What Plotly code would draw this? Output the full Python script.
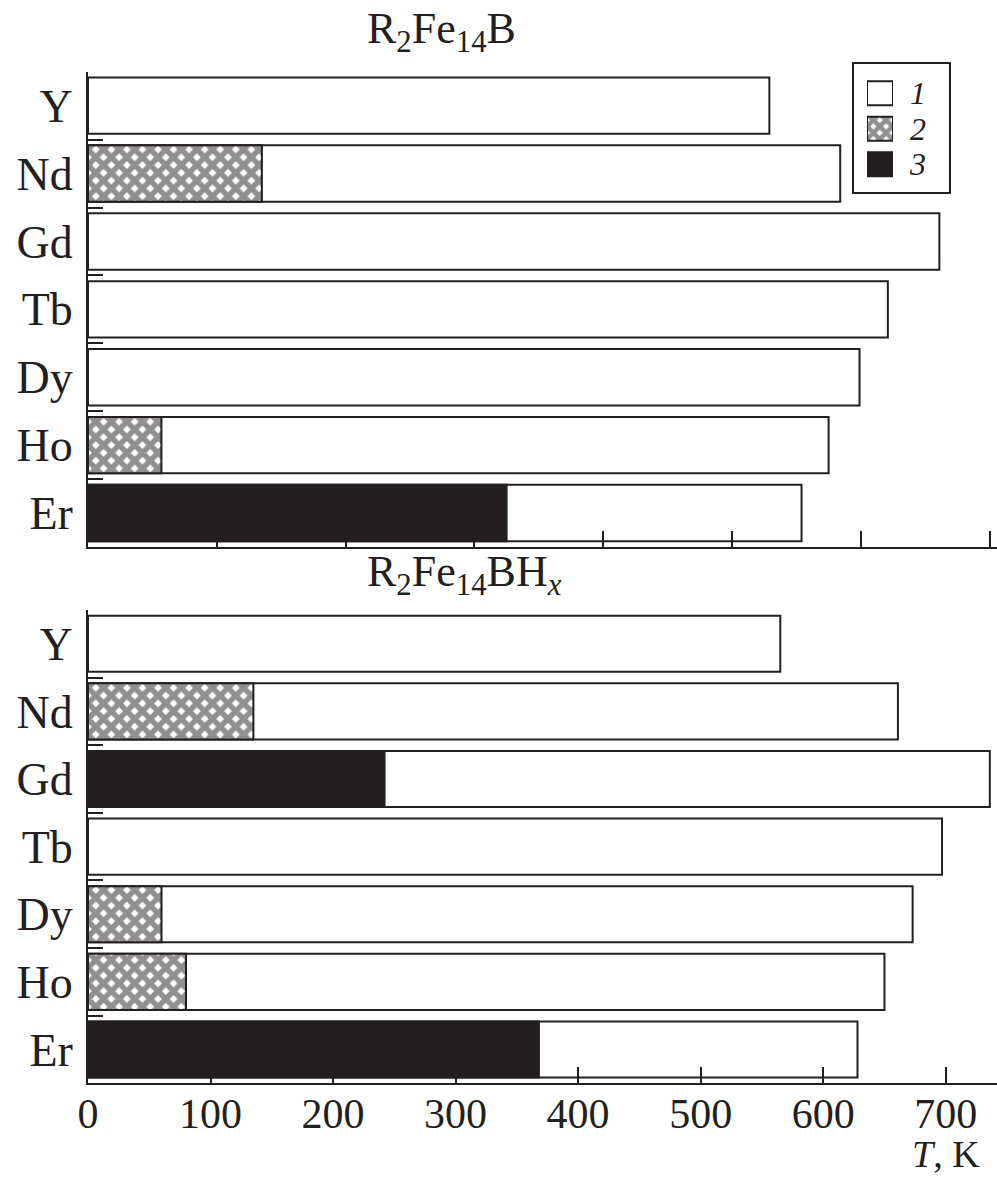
import plotly.graph_objects as go

# ---------------- data ----------------
elements = ["Y", "Nd", "Gd", "Tb", "Dy", "Ho", "Er"]

# R2Fe14B (top panel)
tc_top = [529, 584, 661, 621, 599, 575, 554]          # 1
t2_top = [None, 135, None, None, None, 57, None]      # 2
t3_top = [None, None, None, None, None, None, 325]    # 3

# R2Fe14BHx (bottom panel)
tc_bot = [565, 661, 736, 697, 673, 650, 628]          # 1
t2_bot = [None, 135, None, None, 60, 80, None]        # 2
t3_bot = [None, None, 242, None, None, None, 368]     # 3

xticks = [0, 100, 200, 300, 400, 500, 600, 700]
legend_labels = ["1", "2", "3"]
legend_vals = [1, 1, 1]

# ---------------- style ----------------
W, H = 997, 1181
FONT = "Liberation Serif"
INK = "#231f20"
BARW = 0.83

def px_x(p):
    return p / W

def px_y(p):
    return 1 - p / H

fig = go.Figure()

HATCH = dict(shape="x", fgcolor=INK, bgcolor="white", size=11, solidity=0.75,
             fillmode="overlay")

def add_panel(tc, t2, t3, xa, ya):
    fig.add_trace(go.Bar(
        y=elements, x=tc, orientation="h", width=BARW,
        marker=dict(color="rgba(0,0,0,0)", line=dict(color=INK, width=2)),
        xaxis=xa, yaxis=ya, showlegend=False, hoverinfo="skip"))
    fig.add_trace(go.Bar(
        y=elements, x=t2, orientation="h", width=BARW,
        marker=dict(color="white", line=dict(color=INK, width=2), pattern=HATCH),
        xaxis=xa, yaxis=ya, showlegend=False, hoverinfo="skip"))
    fig.add_trace(go.Bar(
        y=elements, x=t3, orientation="h", width=BARW,
        marker=dict(color=INK, line=dict(color=INK, width=2)),
        xaxis=xa, yaxis=ya, showlegend=False, hoverinfo="skip"))

add_panel(tc_top, t2_top, t3_top, "x", "y")
add_panel(tc_bot, t2_bot, t3_bot, "x2", "y2")

# legend swatches (inset axis)
leg_styles = [
    dict(color="white", line=dict(color=INK, width=2)),
    dict(color="white", line=dict(color=INK, width=2),
         pattern=dict(shape="x", fgcolor=INK, bgcolor="white", size=9,
                      solidity=0.75, fillmode="overlay")),
    dict(color=INK, line=dict(color=INK, width=2)),
]
for lab, val, st in zip(legend_labels, legend_vals, leg_styles):
    fig.add_trace(go.Bar(y=[lab], x=[val], orientation="h", width=0.68,
                         marker=st, xaxis="x3", yaxis="y3",
                         showlegend=False, hoverinfo="skip"))

xdom = [px_x(88), 1.0]
top_dom = [px_y(547), px_y(71.7)]
bot_dom = [px_y(1083.3), px_y(610)]

common_y = dict(
    type="category", categoryorder="array", categoryarray=elements,
    tickmode="array", tickvals=elements,
    range=[len(elements) - 0.5, -0.5], automargin=False,
    showline=True, linecolor=INK, linewidth=2,
    ticks="inside", tickson="boundaries", ticklen=15, tickwidth=2, tickcolor=INK,
    tickfont=dict(family=FONT, size=46, color=INK),
    ticklabelstandoff=4,
    showgrid=False, zeroline=False, layer="below traces", fixedrange=True,
)
common_x = dict(
    showline=True, linecolor=INK, linewidth=2, automargin=False,
    ticks="inside", ticklen=16, tickwidth=2, tickcolor=INK,
    tickmode="array", tickvals=xticks, showgrid=False, zeroline=False,
    layer="below traces", fixedrange=True,
)

fig.update_layout(
    width=W, height=H, autosize=False,
    margin=dict(l=0, r=0, t=0, b=0, pad=0, autoexpand=False),
    paper_bgcolor="white", plot_bgcolor="rgba(0,0,0,0)",
    barmode="overlay", showlegend=False,
    font=dict(family=FONT, color=INK),
    xaxis=dict(domain=xdom, anchor="y", range=[0, 909 / 1.288],
               showticklabels=False, **common_x),
    yaxis=dict(domain=top_dom, anchor="x", **common_y),
    xaxis2=dict(domain=xdom, anchor="y2", range=[0, 909 / 1.2253],
                showticklabels=True,
                tickfont=dict(family=FONT, size=42, color=INK),
                ticklabelstandoff=-8, **common_x),
    yaxis2=dict(domain=bot_dom, anchor="x2", **common_y),
    xaxis3=dict(domain=[px_x(867), px_x(893)], anchor="y3", range=[0, 1],
                visible=False, fixedrange=True, automargin=False),
    yaxis3=dict(domain=[px_y(182), px_y(75.5)], anchor="x3", type="category",
                categoryorder="array", categoryarray=legend_labels,
                tickmode="array", tickvals=legend_labels,
                range=[2.5, -0.5], side="right", showline=False, ticks="",
                showgrid=False, zeroline=False, ticklabelstandoff=16,
                automargin=False,
                tickfont=dict(family=FONT, size=32, color=INK, style="italic"),
                fixedrange=True),
    shapes=[dict(type="rect", xref="paper", yref="paper",
                 x0=px_x(853), x1=px_x(950), y0=px_y(193), y1=px_y(63),
                 line=dict(color=INK, width=2), fillcolor="rgba(0,0,0,0)")],
    annotations=[
        dict(text="R<sub>2</sub>Fe<sub>14</sub>B", xref="paper", yref="paper",
             x=px_x(365), y=px_y(31), xanchor="left", yanchor="middle",
             showarrow=False, font=dict(family=FONT, size=44, color=INK)),
        dict(text="R<sub>2</sub>Fe<sub>14</sub>BH<sub><i>x</i></sub>", xref="paper", yref="paper",
             x=px_x(365), y=px_y(574), xanchor="left", yanchor="middle",
             showarrow=False, font=dict(family=FONT, size=44, color=INK)),
        dict(text="<i>T</i>, K", xref="paper", yref="paper",
             x=px_x(982), y=px_y(1154), xanchor="right", yanchor="middle",
             showarrow=False, font=dict(family=FONT, size=38, color=INK)),
    ],
)

fig.write_html("out.html")
